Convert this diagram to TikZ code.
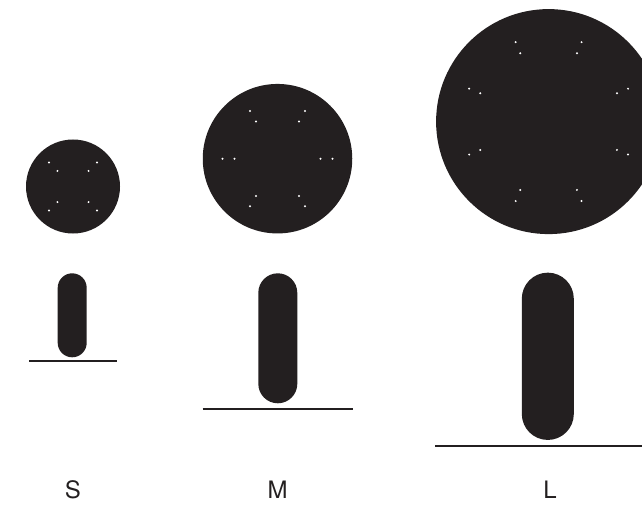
\documentclass[tikz,border=0pt]{standalone}
\usepackage{fontspec}
\setmainfont{TeX Gyre Heros}
\usepackage{tikz}
\usetikzlibrary{positioning,calc}
\definecolor{encre}{RGB}{35,31,32}
\tikzset{
  tete/.style={circle, fill=encre, draw=none, inner sep=0pt, minimum size=#1},
  tete/.default=94pt,
  tige/.style={fill=encre, draw=none, inner sep=0pt, minimum width=#1,
    rounded corners=0.5*#1},
  sol/.style={draw=encre, line width=2.6pt},
  trou/.style={fill=white},
  taille/.style={font=\fontsize{24}{28}\selectfont, text=encre, anchor=base},
}

\begin{document}
\begin{tikzpicture}[x=1pt, y=1pt]
    \useasboundingbox (0,0) rectangle (642,507);
    % tetes
    \node[tete=94pt] (tS) at (73,320.5) {};
    \node[tete=149.5pt] (tM) at (277.5,348.3) {};
    \node[tete=225pt] (tL) at (548.6,385.4) {};
    \foreach \a in {45,135,225,315}
      \foreach \d in {22,34}
        \fill[trou] (tS.center) ++(\a:\d) circle (1.1);
    \foreach \a in {0,60,...,300}
      \foreach \d in {43,55}
        \fill[trou] (tM.center) ++(\a:\d) circle (1.1);
    \foreach \a in {22.5,67.5,...,337.5}
      \foreach \d in {74,86}
        \fill[trou] (tL.center) ++(\a:\d) circle (1.1);
    % tiges
    \node[tige=29pt, minimum height=84pt] (gS) at (72.2,191.7) {};
    \node[tige=39pt, minimum height=130pt] (gM) at (277.8,168.7) {};
    \node[tige=52pt, minimum height=167.3pt] (gL) at (547.8,150.7) {};
    \draw[sol] (29.3,146) -- (116.7,146);
    \draw[sol] (202.7,98) -- (352.7,98);
    \draw[sol] (435,61) -- (661,61);
    % tailles
    \node[taille] (lS) at (73,8.5) {S};
    \node[taille] (lM) at (277.5,8.5) {M};
    \node[taille] (lL) at (550,8.5) {L};
  \end{tikzpicture}
\end{document}
